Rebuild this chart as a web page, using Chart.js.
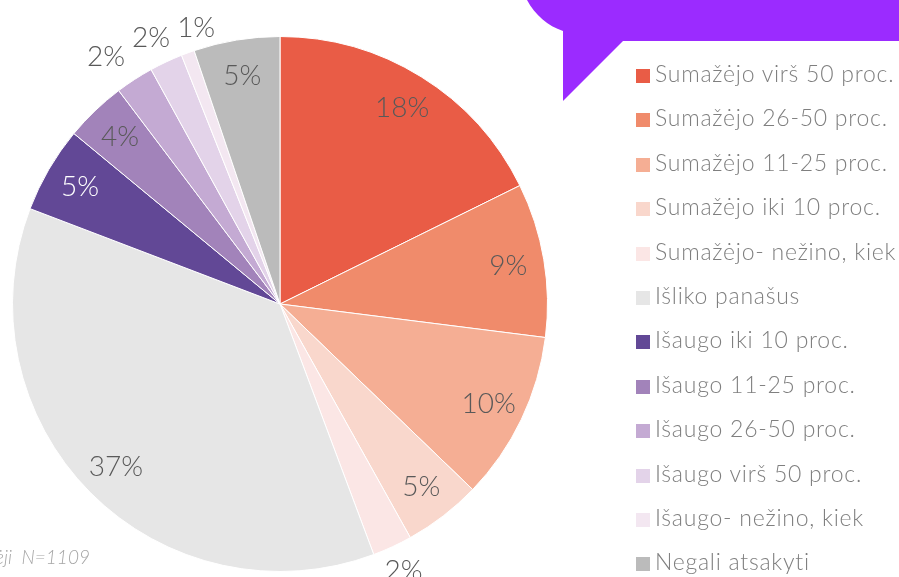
<!DOCTYPE html>
<html lang="lt">
<head>
  <meta charset="UTF-8" />
  <title>Pokytis</title>
  <script src="https://cdn.jsdelivr.net/npm/chart.js"></script>
  <style>
    html, body {
      margin: 0;
      padding: 0;
      background: #ffffff;
      overflow: hidden;
    }
    .wrap {
      position: relative;
      width: 899px;
      height: 577px;
      overflow: hidden;
    }
    #pieChart {
      position: absolute;
      left: 0;
      top: 0;
    }
    .bubble {
      position: absolute;
      left: 0;
      top: 0;
    }
    .legend {
      position: absolute;
      left: 636px;
      top: 51px;
      margin: 0;
      padding: 0;
      list-style: none;
      font-family: Lato, "Open Sans", sans-serif;
      font-weight: 300;
      font-size: 23px;
      letter-spacing: 0.75px;
      color: #7f7f7f;
      white-space: nowrap;
    }
    .legend li {
      height: 44.4px;
      line-height: 44.4px;
    }
    .legend .box {
      display: inline-block;
      width: 14px;
      height: 14px;
      margin-right: 5px;
      vertical-align: -1px;
    }
    .note {
      position: absolute;
      left: -5px;
      top: 545px;
      font-family: Lato, "Open Sans", sans-serif;
      font-style: italic;
      font-weight: 300;
      font-size: 19px;
      color: #a6a6a6;
    }
  </style>
</head>
<body>
  <div class="wrap">
    <svg class="bubble" width="899" height="577">
      <path d="M 527 0 C 535 15, 548 26, 563 31 L 563 101 L 623 41 L 899 41 L 899 0 Z" fill="#9b2bff" />
    </svg>
    <canvas id="pieChart" width="899" height="577"></canvas>
    <ul class="legend" id="legend"></ul>
    <div class="note">ėji&nbsp; N=1109</div>
  </div>

  <script>
    // kategorijos
    const categories = [
      'Sumažėjo virš 50 proc.',
      'Sumažėjo 26-50 proc.',
      'Sumažėjo 11-25 proc.',
      'Sumažėjo iki 10 proc.',
      'Sumažėjo- nežino, kiek',
      'Išliko panašus',
      'Išaugo iki 10 proc.',
      'Išaugo 11-25 proc.',
      'Išaugo 26-50 proc.',
      'Išaugo virš 50 proc.',
      'Išaugo- nežino, kiek',
      'Negali atsakyti'
    ];

    // dalys, proc.
    const shares = [17.7, 9.3, 10.2, 4.7, 2.4, 36.5, 5.2, 3.7, 2.3, 2.0, 0.8, 5.2];

    const colors = [
      '#e95c46', '#f08b6b', '#f5ae94', '#f9d7cc', '#fbe6e5', '#e6e6e6',
      '#624896', '#a283ba', '#c4aad3', '#e3d3e9', '#f3e7f1', '#bbbbbb'
    ];

    // etikečių spalva (balta ant tamsios)
    const labelColors = [
      '#595959', '#595959', '#595959', '#595959', '#595959', '#595959',
      '#ffffff', '#595959', '#595959', '#595959', '#595959', '#595959'
    ];

    // legenda
    const legend = document.getElementById('legend');
    categories.forEach((c, i) => {
      const li = document.createElement('li');
      li.innerHTML = `<span class="box" style="background:${colors[i]}"></span>${c}`;
      legend.appendChild(li);
    });

    // procentų etiketės
    const pctLabels = {
      id: 'pctLabels',
      afterDatasetsDraw(chart) {
        const ctx = chart.ctx;
        const arcs = chart.getDatasetMeta(0).data;
        const data = chart.data.datasets[0].data;
        ctx.save();
        ctx.font = '300 28px Lato, "Open Sans", sans-serif';
        ctx.textAlign = 'center';
        ctx.textBaseline = 'middle';

        const outside = [];
        arcs.forEach((arc, i) => {
          const p = arc.getProps(['x', 'y', 'startAngle', 'endAngle', 'outerRadius'], true);
          const mid = (p.startAngle + p.endAngle) / 2;
          const text = Math.round(data[i]) + '%';
          if (data[i] < 3) {
            const r = p.outerRadius * 1.1;
            outside.push({
              text, i,
              x: p.x + Math.cos(mid) * r,
              y: p.y + Math.sin(mid) * r,
              w: ctx.measureText(text).width
            });
          } else {
            const r = p.outerRadius * 0.865;
            ctx.fillStyle = labelColors[i];
            ctx.fillText(text, p.x + Math.cos(mid) * r, p.y + Math.sin(mid) * r);
          }
        });

        // išskirstyti persidengiančias išorines etiketes
        const top = outside.filter(o => o.y < arcs[0].y).sort((a, b) => a.x - b.x);
        for (let k = 0; k < 50; k++) {
          for (let j = 0; j < top.length - 1; j++) {
            const a = top[j], b = top[j + 1];
            const need = (a.w + b.w) / 2 + 7;
            const gap = b.x - a.x;
            if (gap < need) {
              const d = (need - gap) / 2;
              a.x -= d;
              b.x += d;
            }
          }
        }

        outside.forEach(o => {
          ctx.fillStyle = labelColors[o.i];
          ctx.fillText(o.text, o.x, o.y);
        });
        ctx.restore();
      }
    };

    new Chart(document.getElementById('pieChart'), {
      type: 'pie',
      data: {
        labels: categories,
        datasets: [{
          data: shares,
          backgroundColor: colors,
          borderColor: '#ffffff',
          borderWidth: 1,
          hoverOffset: 0
        }]
      },
      options: {
        responsive: false,
        animation: false,
        layout: {
          padding: { left: 12, right: 351, top: 36, bottom: 5 }
        },
        plugins: {
          legend: { display: false },
          tooltip: { enabled: false }
        }
      },
      plugins: [pctLabels]
    });
  </script>
</body>
</html>
